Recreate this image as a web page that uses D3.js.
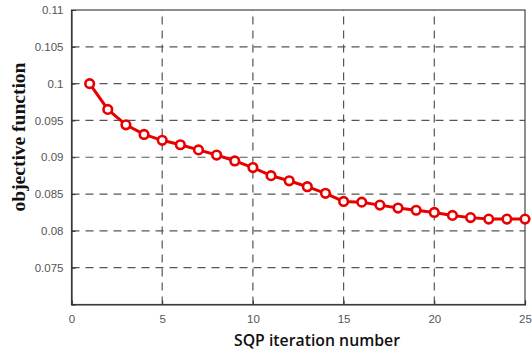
<!DOCTYPE html>
<html><head><meta charset="utf-8">
<script src="https://cdn.jsdelivr.net/npm/d3@7"></script>
<style>body{margin:0;background:#fff}svg{display:block}</style>
</head><body>
<script>
const iterations = [1,2,3,4,5,6,7,8,9,10,11,12,13,14,15,16,17,18,19,20,21,22,23,24,25];
const objective = [0.1,0.0965,0.0944,0.0931,0.0923,0.0917,0.0910,0.0903,0.0895,0.0886,0.0875,0.0868,0.0860,0.0851,0.0840,0.0839,0.0835,0.0831,0.0828,0.0825,0.0821,0.0818,0.0816,0.0816,0.0816];
const xTicks = [0,5,10,15,20,25];
const yTicks = [0.075,0.08,0.085,0.09,0.095,0.1,0.105,0.11];
const yTickLabels = ["0.075","0.08","0.085","0.09","0.095","0.1","0.105","0.11"];

const W=532,H=351;
const m={l:71.5,r:7,t:10,b:46.5};
const svg=d3.select("body").append("svg").attr("width",W).attr("height",H);
const x=d3.scaleLinear().domain([0,25]).range([m.l,W-m.r]);
const y=d3.scaleLinear().domain([0.07,0.11]).range([H-m.b,m.t]);

// grid
svg.append("g").selectAll("line").data(xTicks.filter(d=>d>0&&d<25)).join("line")
  .attr("x1",d=>x(d)).attr("x2",d=>x(d)).attr("y1",y(0.07)).attr("y2",y(0.11))
  .attr("stroke","#555").attr("stroke-width",1.2).attr("stroke-dasharray","8,6");
svg.append("g").selectAll("line").data(yTicks.filter(d=>d<0.11)).join("line")
  .attr("x1",x(0)).attr("x2",x(25)).attr("y1",d=>y(d)).attr("y2",d=>y(d))
  .attr("stroke","#555").attr("stroke-width",1.2).attr("stroke-dasharray","8,6");

// frame
svg.append("rect").attr("x",x(0)).attr("y",y(0.11)).attr("width",x(25)-x(0)).attr("height",y(0.07)-y(0.11))
  .attr("fill","none").attr("stroke","#444").attr("stroke-width",1.2);

// axes
const xa=svg.append("g").attr("transform",`translate(0,${y(0.07)})`)
  .call(d3.axisBottom(x).tickValues(xTicks).tickSize(-4).tickPadding(10));
const ya=svg.append("g").attr("transform",`translate(${x(0)},0)`)
  .call(d3.axisLeft(y).tickValues(yTicks).tickFormat((d,i)=>yTickLabels[i]).tickSize(-4).tickPadding(8));
[xa,ya].forEach(a=>{
  a.select(".domain").attr("stroke","#333").attr("stroke-width",1.2);
  a.selectAll(".tick line").attr("stroke","#333");
  a.selectAll("text").attr("fill","#555").attr("font-family","Liberation Sans, Arial, sans-serif").attr("font-size",11.5);
});

// line
svg.append("path").datum(iterations.map((d,i)=>[d,objective[i]]))
  .attr("d",d3.line().x(d=>x(d[0])).y(d=>y(d[1])))
  .attr("fill","none").attr("stroke","#e80000").attr("stroke-width",3);
svg.append("g").selectAll("circle").data(iterations.map((d,i)=>[d,objective[i]])).join("circle")
  .attr("cx",d=>x(d[0])).attr("cy",d=>y(d[1])).attr("r",4.3)
  .attr("fill","#fff").attr("stroke","#e80000").attr("stroke-width",2.6);

// labels
svg.append("text").attr("x",317).attr("y",346).attr("text-anchor","middle")
  .attr("font-family","Open Sans, sans-serif").attr("font-weight",600).attr("font-size",15.8).attr("fill","#111")
  .text("SQP iteration number");
svg.append("text").attr("transform",`translate(25,137) rotate(-90)`).attr("text-anchor","middle")
  .attr("font-family","Liberation Serif, Times New Roman, serif").attr("font-weight","bold").attr("font-size",19.5).attr("fill","#111")
  .text("objective function");
</script>
</body></html>
